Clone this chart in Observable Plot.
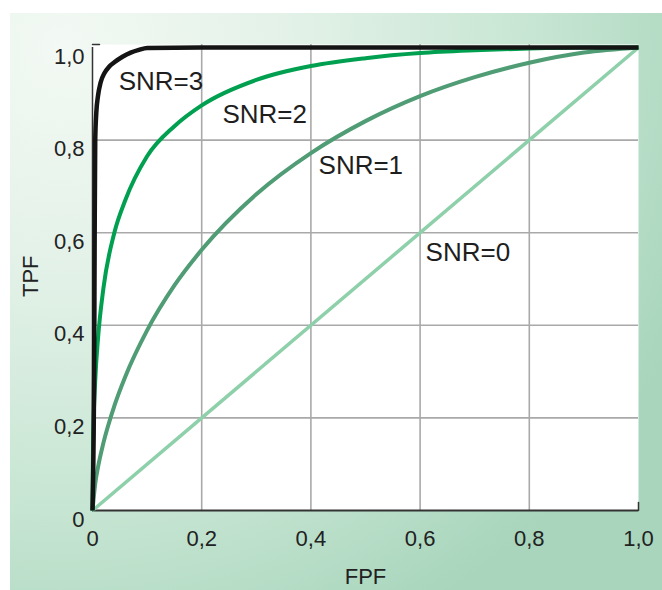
<!DOCTYPE html>
<html>
<head>
<meta charset="utf-8">
<script src="https://cdn.jsdelivr.net/npm/d3@7"></script>
<script src="https://cdn.jsdelivr.net/npm/@observablehq/plot@0.6"></script>
<style>
  html, body { margin: 0; padding: 0; background: #fff; }
  #wrap { position: relative; width: 662px; height: 590px; overflow: hidden; background: #fff; }
  #panel { position: absolute; left: 10px; top: 13px; right: 0; bottom: 0;
    background: radial-gradient(ellipse 105% 115% at 8% 6%, #f3f9f4 0%, #e2f1e7 35%, #c6e5d2 70%, #a8d5bc 100%); }
  #chart { position: absolute; left: 0; top: 0; }
  #chart svg { background: transparent; }
</style>
</head>
<body>
<div id="wrap"><div id="panel"></div><div id="chart"></div></div>
<script>
// Axis ticks
const xTicks = [0, 0.2, 0.4, 0.6, 0.8, 1.0];
const yTicks = [0, 0.2, 0.4, 0.6, 0.8, 1.0];

// SNR = 0 (chance diagonal)
const snr0FPF = [0, 1];
const snr0TPF = [0, 1];

// SNR = 1
const snr1FPF = [0, 0.005, 0.01, 0.02, 0.04, 0.06, 0.1, 0.15, 0.2, 0.3, 0.4, 0.5, 0.6, 0.7, 0.8, 0.9, 1];
const snr1TPF = [0, 0.058, 0.093, 0.146, 0.226, 0.289, 0.389, 0.486, 0.563, 0.683, 0.772, 0.841, 0.895, 0.936, 0.967, 0.989, 1];

// SNR = 2
const snr2FPF = [0, 0.001, 0.005, 0.01, 0.02, 0.04, 0.06, 0.1, 0.15, 0.2, 0.3, 0.4, 0.5, 0.6, 0.7, 0.8, 0.9, 1];
const snr2TPF = [0, 0.14, 0.28, 0.37, 0.48, 0.6, 0.67, 0.765, 0.83, 0.875, 0.93, 0.96, 0.977, 0.988, 0.994, 0.998, 1, 1];

// SNR = 3
const snr3FPF = [0, 0.003, 0.004, 0.005, 0.007, 0.01, 0.015, 0.022, 0.03, 0.04, 0.055, 0.07, 0.085, 0.1, 0.2, 1];
const snr3TPF = [0, 0.3, 0.6, 0.8, 0.86, 0.895, 0.925, 0.945, 0.958, 0.968, 0.98, 0.989, 0.995, 0.999, 1, 1];

// Curve labels (anchored in data coordinates)
const labelText = ["SNR=3", "SNR=2", "SNR=1", "SNR=0"];
const labelFPF = [0.048, 0.238, 0.414, 0.61];
const labelTPF = [0.927, 0.855, 0.745, 0.557];

const series = [
  {name: "SNR=0", fpf: snr0FPF, tpf: snr0TPF, color: "#8dd0aa", width: 3.5},
  {name: "SNR=1", fpf: snr1FPF, tpf: snr1TPF, color: "#4f9c75", width: 4},
  {name: "SNR=2", fpf: snr2FPF, tpf: snr2TPF, color: "#00a050", width: 4},
  {name: "SNR=3", fpf: snr3FPF, tpf: snr3TPF, color: "#141414", width: 4.5}
];

const labels = labelText.map((t, i) => ({text: t, fpf: labelFPF[i], tpf: labelTPF[i]}));
const fmt = d => d === 0 ? "0" : d.toFixed(1).replace(".", ",");
const font = "'Liberation Sans', Arial, Helvetica, sans-serif";

const lineMarks = series.map(s =>
  Plot.line(s.fpf.map((f, i) => ({fpf: f, tpf: s.tpf[i]})), {
    x: "fpf", y: "tpf", stroke: s.color, strokeWidth: s.width,
    curve: "monotone-x", strokeLinecap: "butt", strokeLinejoin: "round"
  })
);

const tickShape = {draw(context, l) { context.moveTo(0, 0); context.lineTo(0, -l); }};

const chart = Plot.plot({
  width: 662,
  height: 590,
  marginLeft: 92,
  marginRight: 24,
  marginTop: 47,
  marginBottom: 80,
  style: {fontFamily: font, background: "transparent", color: "#222"},
  x: {domain: [0, 1], nice: false},
  y: {domain: [0, 1], nice: false},
  marks: [
    Plot.frame({fill: "white", stroke: "none", insetTop: -3}),
    Plot.gridX(xTicks.slice(1, -1), {stroke: "#a9a9a9", strokeOpacity: 1, strokeWidth: 1.6, insetTop: -3}),
    Plot.gridY(yTicks.slice(1, -1), {stroke: "#a9a9a9", strokeOpacity: 1, strokeWidth: 1.6}),
    Plot.ruleX([xTicks[0]], {y1: yTicks[0], y2: yTicks[yTicks.length - 1], stroke: "#333", strokeWidth: 1.5, insetTop: -3}),
    Plot.ruleY([yTicks[0]], {stroke: "#333", strokeWidth: 2}),
    Plot.vector([xTicks[xTicks.length - 1]], {x: d => d, y: yTicks[0], length: 8, rotate: 0, anchor: "start", shape: tickShape, stroke: "#333", strokeWidth: 1.5}),
    Plot.vector([yTicks[yTicks.length - 1]], {x: xTicks[0], y: d => d, length: 7, rotate: 90, anchor: "start", shape: tickShape, stroke: "#333", strokeWidth: 1.5, dy: -3}),
    ...lineMarks,
    Plot.text(labels, {x: "fpf", y: "tpf", text: "text", textAnchor: "start", lineAnchor: "middle", fontSize: 26, fill: "#1e1e1e"}),
    Plot.axisX(xTicks, {tickSize: 0, tickPadding: 20, fontSize: 22, tickFormat: fmt, label: null, fill: "#222"}),
    Plot.axisY(yTicks, {tickSize: 0, tickPadding: 8, dy: 9, fontSize: 22, tickFormat: fmt, label: null, fill: "#222"}),
    Plot.text(["FPF"], {frameAnchor: "bottom", dy: 66, lineAnchor: "middle", fontSize: 22, fill: "#222"}),
    Plot.text(["TPF"], {frameAnchor: "left", dx: -62, dy: 18, rotate: -90, lineAnchor: "middle", fontSize: 22, fill: "#222"})
  ]
});
document.getElementById("chart").appendChild(chart);
</script>
</body>
</html>
